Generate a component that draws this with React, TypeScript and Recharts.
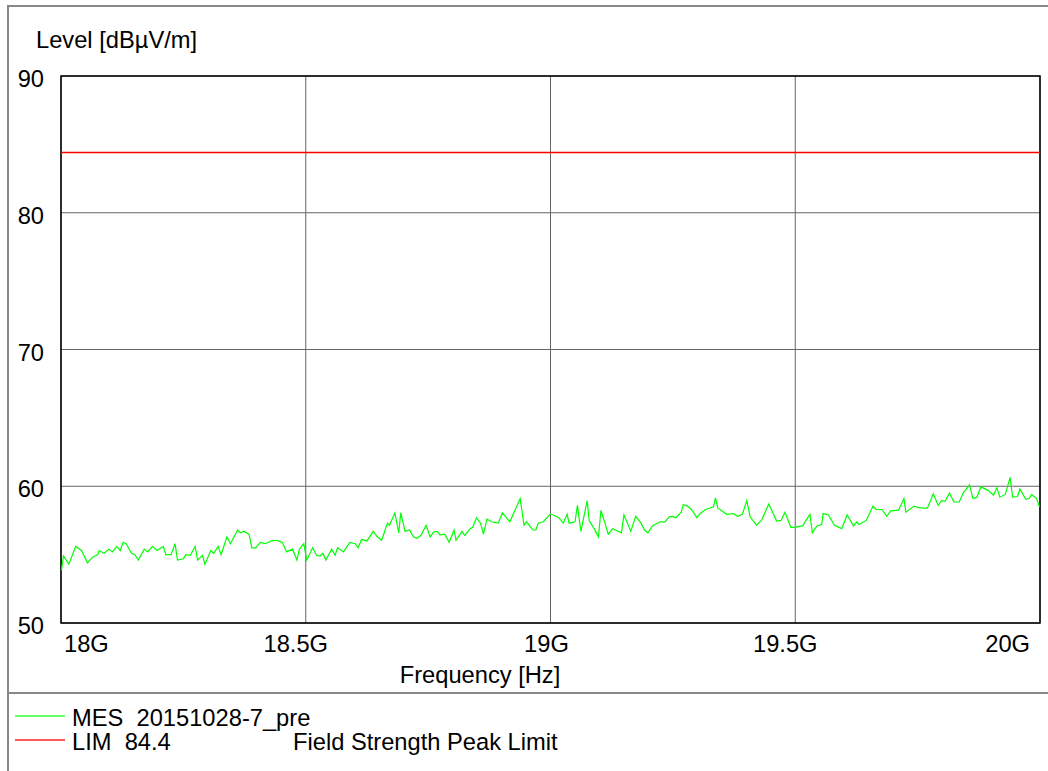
import React from "react";
import {
  LineChart,
  Line,
  XAxis,
  YAxis,
  CartesianGrid,
  ReferenceLine,
  ReferenceArea,
} from "recharts";

// frequency in GHz
const freqs = [
  18.001, 18.005, 18.016, 18.03, 18.042, 18.054, 18.064, 18.075, 18.078, 18.088,
  18.098, 18.105, 18.114, 18.121, 18.127, 18.133, 18.144, 18.151, 18.158, 18.17,
  18.177, 18.187, 18.196, 18.209, 18.214, 18.225, 18.233, 18.238, 18.25, 18.255,
  18.264, 18.274, 18.279, 18.289, 18.294, 18.306, 18.312, 18.321, 18.327, 18.339,
  18.346, 18.361, 18.366, 18.374, 18.384, 18.39, 18.398, 18.407, 18.417, 18.43,
  18.441, 18.452, 18.461, 18.473, 18.482, 18.487, 18.496, 18.502, 18.514, 18.522,
  18.529, 18.535, 18.541, 18.553, 18.56, 18.565, 18.577, 18.59, 18.601, 18.607,
  18.614, 18.625, 18.638, 18.646, 18.655, 18.667, 18.671, 18.682, 18.69, 18.694,
  18.703, 18.712, 18.72, 18.727, 18.735, 18.746, 18.754, 18.761, 18.769, 18.774,
  18.784, 18.793, 18.803, 18.807, 18.819, 18.825, 18.836, 18.841, 18.849, 18.857,
  18.863, 18.87, 18.88, 18.893, 18.902, 18.917, 18.938, 18.946, 18.951, 18.964,
  18.97, 18.975, 18.985, 18.989, 18.999, 19.006, 19.017, 19.026, 19.034, 19.038,
  19.05, 19.055, 19.062, 19.075, 19.079, 19.089, 19.098, 19.103, 19.11, 19.118,
  19.127, 19.145, 19.15, 19.156, 19.164, 19.174, 19.185, 19.192, 19.199, 19.208,
  19.224, 19.234, 19.242, 19.249, 19.256, 19.267, 19.271, 19.28, 19.288, 19.299,
  19.307, 19.317, 19.328, 19.333, 19.337, 19.342, 19.35, 19.36, 19.373, 19.382,
  19.392, 19.401, 19.408, 19.421, 19.431, 19.446, 19.462, 19.471, 19.479, 19.491,
  19.497, 19.515, 19.53, 19.535, 19.544, 19.554, 19.557, 19.568, 19.58, 19.595,
  19.606, 19.619, 19.626, 19.63, 19.645, 19.659, 19.665, 19.677, 19.687, 19.695,
  19.711, 19.722, 19.726, 19.743, 19.751, 19.76, 19.77, 19.782, 19.792, 19.799,
  19.806, 19.815, 19.824, 19.835, 19.843, 19.856, 19.863, 19.871, 19.879, 19.894,
  19.905, 19.912, 19.918, 19.929, 19.939, 19.944, 19.954, 19.959, 19.971, 19.978,
  19.983, 19.993, 19.999,
];

// measured level in dBµV/m
const levels = [
  53.86, 54.9, 54.3, 55.6, 55.3, 54.4, 54.8, 55.0, 55.3, 55.1,
  55.4, 55.2, 55.6, 55.3, 55.9, 55.8, 55.1, 55.0, 54.6, 55.4,
  55.2, 55.6, 55.3, 55.6, 55.0, 55.0, 55.8, 54.6, 54.7, 55.0,
  54.95, 55.6, 54.6, 54.95, 54.3, 55.3, 55.1, 55.6, 55.0, 56.3,
  55.8, 56.8, 56.6, 56.7, 56.5, 55.5, 55.5, 55.9, 55.8, 56.0,
  56.05, 55.9, 55.2, 55.4, 54.6, 55.4, 55.8, 54.6, 55.5, 54.95,
  54.9, 55.1, 54.6, 55.4, 54.95, 55.5, 55.2, 55.9, 55.8, 55.5,
  56.1, 56.0, 56.7, 56.3, 56.05, 57.3, 57.15, 58.05, 56.6, 58.05,
  56.7, 56.8, 56.3, 56.2, 56.4, 57.15, 56.3, 56.65, 56.7, 56.45,
  56.5, 55.9, 56.8, 56.05, 56.7, 56.4, 56.9, 57.0, 57.7, 57.3,
  56.5, 57.6, 57.4, 57.3, 58.05, 57.4, 59.1, 57.15, 57.4, 56.8,
  56.8, 57.3, 57.4, 57.55, 57.95, 57.9, 57.7, 57.3, 57.95, 57.3,
  57.4, 58.6, 56.7, 58.95, 57.5, 56.9, 56.3, 58.25, 57.45, 56.5,
  56.9, 56.6, 57.9, 57.4, 56.7, 57.8, 57.3, 56.8, 56.6, 57.1,
  57.4, 57.4, 57.75, 57.8, 57.7, 58.1, 58.65, 58.55, 58.3, 57.7,
  58.05, 58.3, 58.45, 58.5, 59.15, 58.4, 58.2, 57.95, 58.0, 57.8,
  57.95, 58.95, 57.75, 57.15, 57.5, 58.7, 57.45, 57.5, 58.1, 57.0,
  57.0, 57.1, 57.95, 56.6, 57.1, 57.2, 58.0, 57.9, 57.15, 56.9,
  57.9, 57.1, 57.4, 57.2, 57.5, 58.55, 58.3, 58.3, 57.8, 58.2,
  58.25, 59.1, 58.1, 58.55, 58.45, 58.4, 58.4, 59.45, 58.6, 58.95,
  58.9, 59.5, 58.85, 58.85, 59.5, 60.1, 59.1, 59.2, 59.95, 59.7,
  59.35, 59.9, 59.2, 59.4, 60.65, 59.2, 59.25, 59.8, 59.05, 59.1,
  59.4, 59.1, 58.5,
];

const xTicks = [18, 18.5, 19, 19.5, 20];
const yTicks = [50, 60, 70, 80, 90];
const LIMIT = 84.4;

const data = freqs.map((f, i) => ({ f, level: levels[i] }));

const FONT = "'Liberation Sans', Arial, sans-serif";
const FS = 23.7;

function XTick({ x, payload }: any) {
  const v = payload.value;
  let anchor = "middle";
  let dx = -10;
  if (v === 18) {
    anchor = "start";
    dx = 3;
  } else if (v === 20) {
    anchor = "end";
    dx = -10;
  } else if (v === 19) {
    dx = -4;
  }
  return (
    <text
      x={x + dx}
      y={623 + 29}
      textAnchor={anchor}
      fontSize={FS}
      fontFamily={FONT}
      fill="#000"
    >
      {v}G
    </text>
  );
}

function YTick({ y, payload }: any) {
  return (
    <text
      x={44}
      y={y + 11}
      textAnchor="end"
      fontSize={FS}
      fontFamily={FONT}
      fill="#000"
    >
      {payload.value}
    </text>
  );
}

export default function App() {
  return (
    <div
      style={{
        position: "absolute",
        left: 0,
        top: 0,
        width: 1048,
        height: 771,
        background: "#fff",
        overflow: "hidden",
      }}
    >
      <LineChart
        width={1048}
        height={771}
        data={data}
        margin={{ top: 76, right: 8, bottom: 108, left: 0 }}
      >
        <CartesianGrid stroke="#666" strokeWidth={1} />
        <XAxis
          dataKey="f"
          type="number"
          domain={[18, 20]}
          ticks={xTicks}
          height={40}
          axisLine={false}
          tickLine={false}
          tick={<XTick />}
          interval={0}
        />
        <YAxis
          type="number"
          domain={[50, 90]}
          ticks={yTicks}
          width={61}
          axisLine={false}
          tickLine={false}
          tick={<YTick />}
          interval={0}
        />
        <ReferenceLine y={LIMIT} stroke="#ff0000" strokeWidth={1.5} />
        <Line
          type="linear"
          dataKey="level"
          stroke="#00ff00"
          strokeWidth={1.2}
          dot={false}
          isAnimationActive={false}
        />
        <ReferenceArea
          x1={18}
          x2={20}
          y1={50}
          y2={90}
          fill="none"
          fillOpacity={0}
          stroke="#000"
          strokeWidth={1.5}
        />
      </LineChart>

      <svg
        width={1048}
        height={771}
        style={{ position: "absolute", left: 0, top: 0, pointerEvents: "none" }}
      >
        <line x1={7} y1={6} x2={1048} y2={6} stroke="#888" strokeWidth={2} />
        <line x1={8} y1={5} x2={8} y2={771} stroke="#888" strokeWidth={2} />
        <line x1={7} y1={693} x2={1048} y2={693} stroke="#888" strokeWidth={2} />
        <g fontFamily={FONT} fontSize={FS} fill="#000">
          <text x={36} y={48}>Level [dBµV/m]</text>
          <text x={480} y={683} textAnchor="middle">Frequency [Hz]</text>
          <text x={72} y={726} style={{ whiteSpace: "pre" }}>
            {"MES  20151028-7_pre"}
          </text>
          <text x={72} y={750} style={{ whiteSpace: "pre" }}>
            {"LIM  84.4"}
          </text>
          <text x={293} y={750}>Field Strength Peak Limit</text>
        </g>
        <line x1={15} y1={716} x2={65} y2={716} stroke="#33ff33" strokeWidth={1.5} />
        <line x1={15} y1={740} x2={65} y2={740} stroke="#ff2222" strokeWidth={1.5} />
      </svg>
    </div>
  );
}
